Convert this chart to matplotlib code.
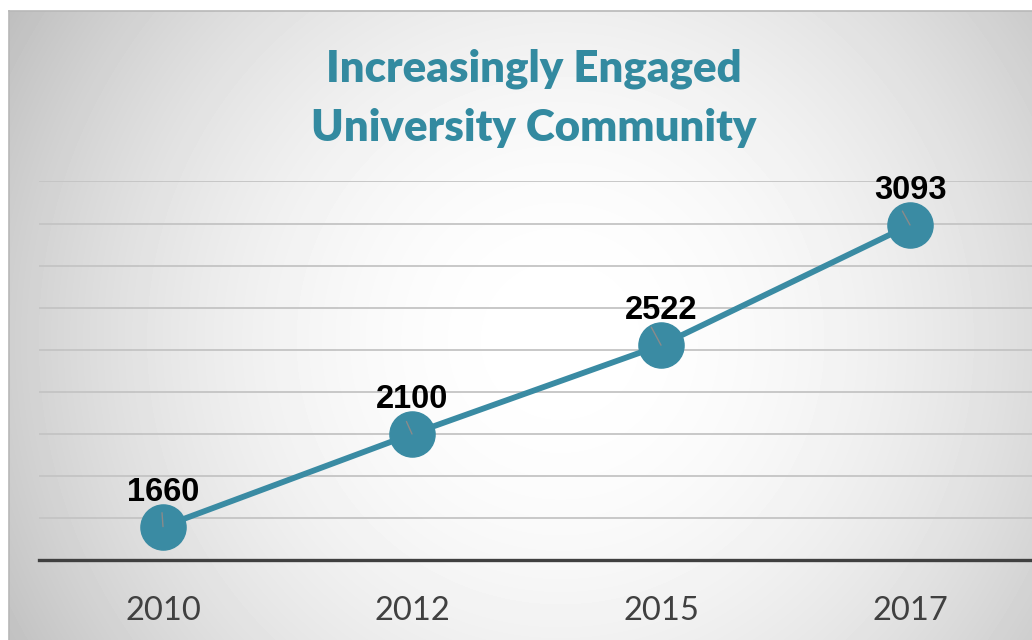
import numpy as np
import matplotlib
matplotlib.use("Agg")
import matplotlib.pyplot as plt

years = ["2010", "2012", "2015", "2017"]
members = [1660, 2100, 2522, 3093]
title_lines = ["Increasingly Engaged", "University Community"]

TEAL = "#3a8ba3"
TITLE_TEAL = "#338aa0"


def main():
    fig = plt.figure(figsize=(10.32, 6.40), dpi=100, facecolor="white")

    # soft radial backdrop of the chart frame
    bg = fig.add_axes([9 / 1032, 0, 1 - 9 / 1032, 629 / 640])
    w, h = 1023, 629
    xx, yy = np.meshgrid(np.arange(w) + 9, np.arange(h) + 11)
    d2 = ((xx - 560) / 540.0) ** 2 + ((yy - 340) / 540.0) ** 2
    shade = np.clip(1 - 0.18 * d2, 0.74, 1.0)
    bg.imshow(shade, cmap="gray", vmin=0, vmax=1, aspect="auto",
              interpolation="bilinear")
    bg.set_axis_off()
    fig.add_artist(plt.Line2D([9 / 1032, 1], [629 / 640, 629 / 640],
                              color="#b8b8b8", lw=1.2))
    fig.add_artist(plt.Line2D([9 / 1032, 9 / 1032], [0, 629 / 640],
                              color="#b8b8b8", lw=1.2))

    ax = fig.add_axes([38.5 / 1032, 79.7 / 640, 996 / 1032, 378.9 / 640])
    ax.patch.set_alpha(0)
    x = np.arange(len(years))
    ax.set_xlim(-0.5, 3.5)
    ax.set_ylim(1500, 3300)
    ax.set_yticks(np.arange(1700, 3301, 200))
    ax.yaxis.grid(True, color="#c4c4c4", lw=1.3)
    ax.set_axisbelow(True)
    ax.tick_params(axis="y", left=False, labelleft=False)
    ax.tick_params(axis="x", bottom=False, pad=22, labelsize=23.5,
                   labelcolor="#404040")
    ax.set_xticks(x)
    ax.set_xticklabels(years, fontfamily="Lato")
    for s in ["top", "left", "right"]:
        ax.spines[s].set_visible(False)
    ax.spines["bottom"].set_color("#404040")
    ax.spines["bottom"].set_linewidth(2.4)

    ax.plot(x, members, color=TEAL, lw=4.2, marker="o", markersize=32.5,
            markerfacecolor=TEAL, markeredgecolor=TEAL, zorder=3,
            solid_capstyle="round", clip_on=False)

    # faint leader stubs inside each marker
    stubs = [(-0.7, 10), (-4, 9), (-7, 13), (-5.5, 10)]
    for xi, yi, (dx, dy) in zip(x, members, stubs):
        ax.annotate("", xy=(xi, yi), xytext=(dx, dy), textcoords="offset points",
                    arrowprops=dict(arrowstyle="-", color="#8a8a8a", lw=1,
                                    shrinkA=0, shrinkB=0), zorder=4)
        ax.annotate(str(yi), xy=(xi, yi), xytext=(0, 13.5),
                    textcoords="offset points", ha="center", va="bottom",
                    fontsize=23.5, fontweight="bold", fontfamily="Liberation Sans",
                    color="black", zorder=5, annotation_clip=False)

    fig.text(534 / 1032, 1 - 69 / 640, title_lines[0], ha="center", va="center",
             fontsize=31.5, fontweight="heavy", fontfamily="Lato", color=TITLE_TEAL)
    fig.text(534 / 1032, 1 - 128 / 640, title_lines[1], ha="center", va="center",
             fontsize=31.5, fontweight="heavy", fontfamily="Lato", color=TITLE_TEAL)

    fig.savefig("out.png", dpi=100, facecolor="white")
    plt.close(fig)


if __name__ == "__main__":
    main()
